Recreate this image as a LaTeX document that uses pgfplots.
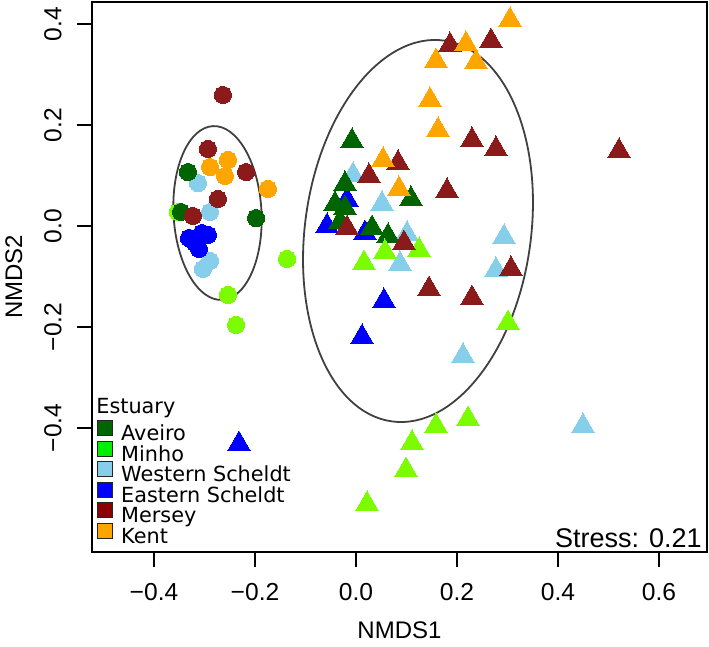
\documentclass[border=0pt]{standalone}
\usepackage{fontspec}
\setmainfont{Liberation Sans}
\newfontfamily\dejavu{DejaVu Sans}
\usepackage{pgfplots}
\pgfplotsset{compat=1.18}

\definecolor{cAveiro}{HTML}{006400}
\definecolor{cMinho}{HTML}{7CFC00}
\definecolor{cMinhoKey}{HTML}{00EE00}
\definecolor{cWest}{HTML}{87CEEB}
\definecolor{cEast}{HTML}{0000FF}
\definecolor{cMersey}{HTML}{8B1A1A}
\definecolor{cMerseyKey}{HTML}{8B0000}
\definecolor{cKent}{HTML}{FFA500}

\pgfplotsset{
  circ/.style={only marks, forget plot, color=#1, mark=*, mark size=4.3pt, mark options={solid, line width=0pt, fill=#1, draw=#1}},
  tri/.style={only marks, forget plot, color=#1, mark=triangle*, mark size=6.5pt, mark options={solid, line width=0pt, fill=#1, draw=#1}},
  sq/.style={legend image code/.code={\draw[fill=#1, draw=black!85, line width=0.6pt] (0pt,0pt) rectangle (7.5pt,7.5pt);}},
}

\begin{document}
\begin{tikzpicture}
\begin{axis}[
  scale only axis, width=307.5pt, height=275pt,
  xmin=-0.52277, xmax=0.69505, ymin=-0.64554, ymax=0.44356,
  axis line style={line width=0.8pt},
  xtick={-0.4,-0.2,0,0.2,0.4,0.6}, xticklabels={−0.4,−0.2,0.0,0.2,0.4,0.6},
  ytick={-0.4,-0.2,0,0.2,0.4}, yticklabels={−0.4,−0.2,0.0,0.2,0.4},
  tick align=outside, major tick length=7.5pt,
  tick style={line width=0.8pt, black},
  xtick pos=left, ytick pos=left,
  ticklabel style={font=\fontsize{12.3}{13}\selectfont},
  xticklabel style={anchor=north, inner sep=0pt},
  yticklabel style={rotate=90, anchor=south, inner sep=0pt},
  xticklabel shift=8pt, yticklabel shift=7.5pt,
  xlabel={NMDS1}, ylabel={NMDS2},
  label style={font=\fontsize{12}{13}\selectfont, inner sep=0pt},
  xlabel style={at={(axis description cs:0.5,-0.12545)}, anchor=north},
  ylabel style={at={(axis description cs:-0.14146,0.5)}, anchor=north},
  legend style={draw=none, fill=none, inner sep=0pt, outer sep=0pt,
    at={(axis description cs:0.00813,0.2400)}, anchor=north west,
    row sep=-2.65pt, column sep=3pt,
    font=\dejavu\fontsize{10.4}{10.4}\selectfont,
    nodes={inner xsep=1pt, inner ysep=0pt, text height=7.6pt, text depth=2.65pt}},
  legend cell align=left,
]
% circles
\addplot[circ=cMinho] coordinates {(-0.3525,0.0277) (-0.1366,-0.0653) (-0.2535,-0.1366) (-0.2376,-0.1960)};
\addplot[circ=cWest] coordinates {(-0.3129,0.0851) (-0.2891,0.0277) (-0.2891,-0.0693) (-0.3030,-0.0851)};
\addplot[circ=cEast] coordinates {(-0.3307,-0.0238) (-0.3050,-0.0139) (-0.2931,-0.0178) (-0.3109,-0.0455) (-0.3188,-0.0337)};
\addplot[circ=cAveiro] coordinates {(-0.3327,0.1069) (-0.3465,0.0277) (-0.1980,0.0158)};
\addplot[circ=cMersey] coordinates {(-0.2634,0.2594) (-0.2931,0.1525) (-0.2178,0.1069) (-0.2733,0.0535) (-0.3228,0.0198)};
\addplot[circ=cKent] coordinates {(-0.2535,0.1307) (-0.2891,0.1168) (-0.2594,0.0990) (-0.1743,0.0733)};
% triangles
\addplot[tri=cEast] coordinates {(-0.0178,0.0515) (-0.0574,0.0) (0.0178,-0.0139) (0.0554,-0.1485) (0.0119,-0.2198) (-0.2317,-0.4317)};
\addplot[tri=cWest] coordinates {(-0.0059,0.1010) (0.0515,0.0436) (0.1010,-0.0158) (0.0871,-0.0752) (0.2931,-0.0218) (0.2772,-0.0871) (0.2119,-0.2574) (0.4495,-0.3960)};
\addplot[tri=cAveiro] coordinates {(-0.0079,0.1683) (-0.0218,0.0832) (-0.0416,0.0436) (-0.0218,0.0356) (-0.0317,0.0079) (0.0317,-0.0040) (0.0634,-0.0198) (0.1089,0.0535)};
\addplot[tri=cMinho] coordinates {(0.1248,-0.0475) (0.0574,-0.0515) (0.0158,-0.0733) (0.3010,-0.1921) (0.2218,-0.3822) (0.1584,-0.3960) (0.1109,-0.4297) (0.0990,-0.4832) (0.0218,-0.5505)};
\addplot[tri=cMersey] coordinates {(0.1861,0.3584) (0.2673,0.3663) (0.2297,0.1703) (0.2772,0.1525) (0.0832,0.1248) (0.0257,0.0990) (0.1802,0.0693) (-0.0178,-0.0040) (0.0950,-0.0337) (0.3069,-0.0851) (0.1446,-0.1248) (0.2297,-0.1426) (0.5208,0.1485)};
\addplot[tri=cKent] coordinates {(0.3050,0.4079) (0.2178,0.3604) (0.1584,0.3267) (0.2376,0.3248) (0.1465,0.2495) (0.1624,0.1901) (0.0535,0.1307) (0.0851,0.0733)};
% ellipses
\draw[black!75, line width=0.9pt, rotate around={3:(axis cs:-0.27426,0.02574)}] (axis cs:-0.27426,0.02574) ellipse [x radius=22pt, y radius=43.5pt];
\draw[black!75, line width=0.9pt, rotate around={-7.8:(axis cs:0.12277,-0.0099)}] (axis cs:0.12277,-0.0099) ellipse [x radius=56.5pt, y radius=96.1pt];
% legend
\addlegendimage{sq=cAveiro}\addlegendentry{Aveiro}
\addlegendimage{sq=cMinhoKey}\addlegendentry{Minho}
\addlegendimage{sq=cWest}\addlegendentry{Western Scheldt}
\addlegendimage{sq=cEast}\addlegendentry{Eastern Scheldt}
\addlegendimage{sq=cMerseyKey}\addlegendentry{Mersey}
\addlegendimage{sq=cKent}\addlegendentry{Kent}
\node[anchor=base west, inner sep=0pt, font=\dejavu\fontsize{10.4}{10.4}\selectfont] at (axis description cs:0.0065,0.2527) {Estuary};
\node[anchor=base east, inner sep=0pt, font=\fontsize{13.5}{14}\selectfont] at (axis description cs:0.9919,0.0073) {Stress: 0.21};
\end{axis}
\pgfresetboundingbox
\path[use as bounding box] ([shift={(-46pt,-47.5pt)}]current axis.south west) rectangle ([shift={(1pt,1pt)}]current axis.north east);
\end{tikzpicture}
\end{document}
